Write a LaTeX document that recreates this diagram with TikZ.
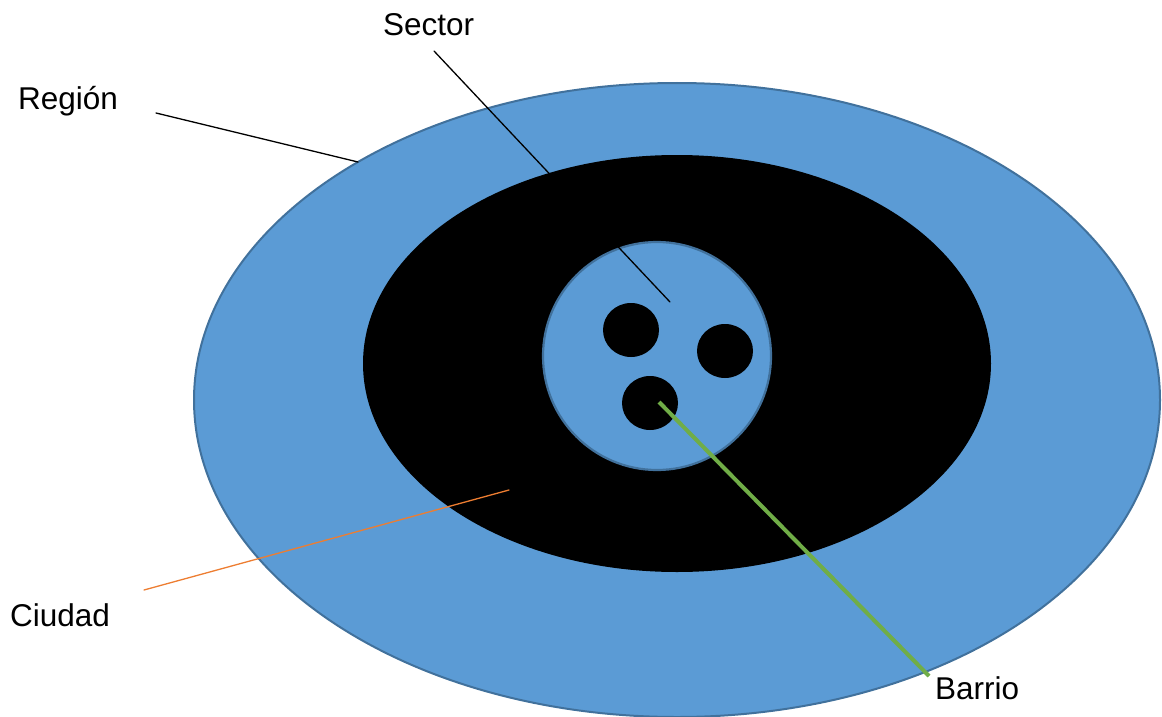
\documentclass[tikz,border=0pt]{standalone}
\usepackage{fontspec}
\setmainfont{Liberation Sans}
\usepackage{xcolor}
\usetikzlibrary{positioning}
\definecolor{regblue}{HTML}{5B9BD5}
\definecolor{regedge}{HTML}{41719C}
\definecolor{ciuorange}{HTML}{ED7D31}
\definecolor{barrgreen}{HTML}{70AD47}
\tikzset{
  lbl/.style={anchor=base west, inner sep=0pt, font=\fontsize{31.5}{36}\selectfont},
  leader/.style={line width=1.3pt, line cap=round}
}

\begin{document}
\begin{tikzpicture}[x=1pt, y=-1pt]
        \useasboundingbox (0,0) rectangle (1162,717);

        % region
        \fill[regblue, draw=regedge, line width=2pt] (677,400) ellipse [x radius=483, y radius=317];

        % ciudad
        \fill[black] (677,363.5) ellipse [x radius=314, y radius=208.5];

        % sector
        \fill[regblue, draw=regedge, line width=2.2pt] (657,356) circle [radius=114];

        % barrios
        \fill[black] (631,330) ellipse [x radius=28, y radius=27];
        \fill[black] (725,351) ellipse [x radius=28, y radius=27];
        \fill[black] (650,403) ellipse [x radius=28, y radius=27];

        % labels
        \node[lbl] (region) at (18,110) {Región};
        \node[lbl] (sector) at (383,36) {Sector};
        \node[lbl] (ciudad) at (10,626) {Ciudad};
        \node[lbl] (barrio) at (935,699) {Barrio};

        % leader ends
        \coordinate (regA) at (156,113);
        \coordinate (regB) at (358,162);
        \coordinate (secA) at (434,51);
        \coordinate (secB) at (670,302);
        \coordinate (ciuA) at (144,590);
        \coordinate (ciuB) at (509,490);
        \coordinate (barA) at (659,402);
        \coordinate (barB) at (929,676);

        \draw[leader] (regA) -- (regB);
        \draw[leader] (secA) -- (secB);
        \draw[leader, ciuorange] (ciuA) -- (ciuB);
        \draw[leader, barrgreen, line width=4pt, line cap=butt] (barA) -- (barB);
      \end{tikzpicture}
\end{document}
